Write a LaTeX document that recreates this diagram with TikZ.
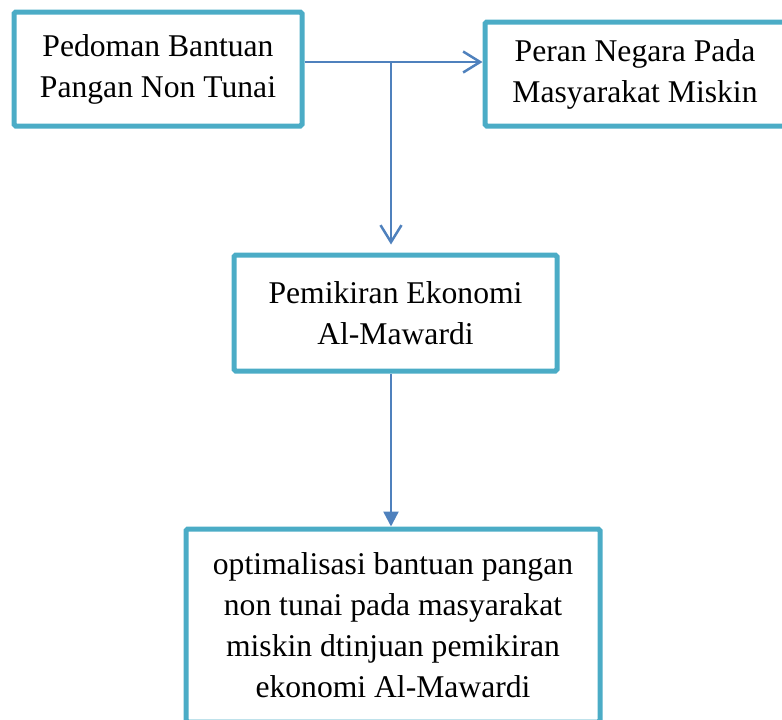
\documentclass[tikz,border=0pt]{standalone}
\usepackage{fontspec}
\setmainfont{Liberation Serif}
\usepackage{xcolor}
\definecolor{kbframe}{RGB}{75,172,198}
\definecolor{kbarrow}{RGB}{79,129,189}
\usetikzlibrary{arrows.meta,positioning,calc}

\begin{document}
\begin{tikzpicture}[font=\fontsize{18}{23.3}\selectfont,
  kotak/.style={draw=kbframe,line width=0.1cm,rounded corners=1pt,align=center,inner sep=0pt},
  panah/.style={kbarrow,line width=0.05cm}]
  \useasboundingbox (0,0) rectangle (15.64,-14.4);
  \node[kotak,minimum width=5.76cm,minimum height=2.28cm] (pedoman) at (3.16,-1.38) {Pedoman Bantuan\\Pangan Non Tunai};
  \node[kotak,minimum width=6.0cm,minimum height=2.08cm] (peran) at (12.7,-1.48) {Peran Negara Pada\\Masyarakat Miskin};
  \node[kotak,minimum width=6.46cm,minimum height=2.32cm] (pemikiran) at (7.91,-6.26) {Pemikiran Ekonomi\\Al-Mawardi};
  \node[kotak,minimum width=8.28cm,minimum height=3.86cm] (optimal) at (7.86,-12.51) {optimalisasi bantuan pangan\\non tunai pada masyarakat\\miskin dtinjuan pemikiran\\ekonomi Al-Mawardi};
  \coordinate (cabang) at (7.82,-1.24);
  \draw[panah,-{Straight Barb[length=0.34cm,width=0.42cm]}] (pedoman.east |- cabang)--(peran.west |- cabang);
  \draw[panah,-{Straight Barb[length=0.34cm,width=0.42cm]},shorten >=0.16cm] (cabang)--(cabang |- pemikiran.north);
  \draw[panah,-{Triangle[length=0.3cm,width=0.3cm]}] (pemikiran.south -| cabang)--(optimal.north -| cabang);
\end{tikzpicture}
\end{document}
